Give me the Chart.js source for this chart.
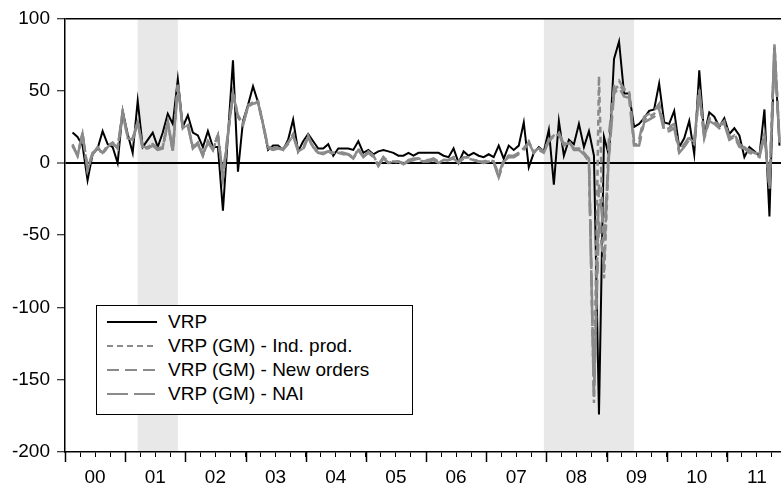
<!DOCTYPE html>
<html>
<head>
<meta charset="utf-8">
<script src="https://cdn.jsdelivr.net/npm/chart.js@4.4.1/dist/chart.umd.min.js"></script>
<style>
    html, body { margin: 0; padding: 0; background: #fff; }
    #wrap { position: relative; width: 781px; height: 486px; overflow: hidden; }
    #chart { position: absolute; left: 0; top: 0; }
    #legend {
        position: absolute; left: 96px; top: 305px; width: 315px; height: 108px;
        border: 1px solid #000; background: #fff;
        font-family: "Liberation Sans", Arial, sans-serif; font-size: 19px; color: #000;
    }
    #legend .row { position: absolute; left: 0; height: 24px; display: flex; align-items: center; white-space: nowrap; }
    #legend svg { margin-left: 10px; margin-right: 11px; }
</style>
</head>
<body>
<div id="wrap">
    <canvas id="chart" width="800" height="486"></canvas>
    <div id="legend"></div>
</div>
<script>
// Monthly observations, Feb 2000 .. Nov 2011 (x = months after Jan 2000)
const firstMonth = 1;
const yearLabels = ['00', '01', '02', '03', '04', '05', '06', '07', '08', '09', '10', '11'];

// Recessions: first and last month (months after Jan 2000)
const recessions = [[14, 22], [95, 113]];

const vrp = [
    21, 18, 12, -12, 6, 10, 22, 13, 11, 0, 36,
    20, 7, 43, 11, 16, 21, 11, 21, 34, 27, 58, 25,
    33, 21, 19, 11, 22, 11, 11, -33, 19, 71, -6, 29,
    40, 53, 42, 27, 9, 12, 12, 9, 16, 30, 8, 15,
    20, 15, 10, 10, 13, 5, 10, 10, 10, 9, 15, 7,
    9, 6, 8, 9, 8, 7, 5, 5, 7, 5, 7, 7,
    7, 7, 7, 5, 4, 10, 0, 8, 5, 7, 5, 4,
    6, 4, 12, 3, 12, 9, 12, 28, -3, 7, 11, 8,
    23, -15, 29, 5, 16, 13, 27, 11, 22, 5, -174, 18,
    5, 72, 84, 48, 48, 25, 27, 31, 36, 37, 55, 28,
    27, 36, 11, 17, 29, 6, 64, 19, 35, 32, 25, 31,
    20, 24, 19, 4, 11, 8, 5, 37, -37, 80, 12
];

const vrpIndProd = [
    13, 5, 21, -5, 6, 11, 6, 12, 14, 10, 36,
    18, 17, 29, 10, 11, 13, 9, 11, 29, 8, 55, 24,
    27, 10, 14, 5, 15, 9, 20, -10, 20, 49, 33, 27,
    40, 42, 43, 27, 10, 10, 10, 10, 14, 20, 8, 10,
    19, 11, 7, 7, 8, 7, 7, 7, 6, 3, 10, 4,
    8, 5, -2, 4, 0, 1, 1, -1, 2, 2, 3, 1,
    2, 3, 0, 2, 2, 4, 0, 4, 4, 2, 1, 0,
    2, 1, -10, 1, 5, 4, 7, 10, 15, 7, 10, 8,
    16, 19, 21, 13, 15, 9, 10, 7, 2, -166, 60, -80,
    10, 50, 54, 50, 49, 13, 13, 30, 32, 34, 39, 23,
    24, 26, 8, 12, 17, 14, 50, 18, 30, 28, 25, 28,
    17, 19, 12, 11, 8, 7, 5, 20, -15, 82, 15
];

const vrpNewOrders = [
    12, 6, 20, -4, 7, 10, 7, 12, 13, 11, 35,
    18, 16, 28, 11, 11, 13, 10, 11, 28, 9, 54, 24,
    26, 11, 14, 6, 15, 10, 19, -8, 21, 48, 32, 27,
    39, 41, 42, 27, 11, 10, 11, 10, 14, 19, 9, 10,
    18, 11, 8, 7, 8, 7, 7, 7, 6, 4, 9, 5,
    8, 5, -1, 4, 1, 1, 1, 0, 2, 3, 3, 2,
    2, 3, 1, 2, 2, 4, 1, 4, 4, 2, 1, 1,
    2, 1, -8, 2, 5, 5, 7, 10, 14, 8, 10, 8,
    16, 18, 20, 13, 15, 10, 10, 7, 3, -158, -40, -72,
    20, 53, 57, 51, 50, 15, 16, 32, 34, 36, 41, 25,
    25, 27, 9, 13, 18, 15, 51, 19, 31, 29, 26, 29,
    18, 20, 13, 11, 9, 7, 6, 20, -18, 81, 16
];

const vrpNai = [
    12, 5, 20, -5, 6, 11, 6, 11, 14, 10, 35,
    17, 16, 28, 10, 10, 12, 9, 10, 28, 8, 53, 23,
    26, 10, 13, 5, 14, 9, 19, -10, 19, 48, 32, 26,
    39, 41, 42, 26, 10, 9, 10, 9, 13, 19, 8, 9,
    18, 10, 7, 6, 8, 6, 7, 6, 6, 3, 9, 4,
    7, 4, -2, 3, 0, 0, 1, -1, 1, 2, 2, 1,
    1, 2, 0, 1, 2, 3, 0, 3, 3, 2, 1, 0,
    1, 0, -10, 1, 4, 4, 6, 9, 14, 7, 9, 7,
    15, 18, 20, 12, 14, 9, 9, 6, 1, -162, -15, -50,
    5, 48, 52, 46, 45, 12, 12, 28, 30, 32, 37, 22,
    22, 24, 7, 11, 16, 13, 48, 17, 29, 27, 24, 27,
    16, 18, 11, 10, 7, 6, 4, 19, -16, 80, 14
];

const tickFont = { family: '"Liberation Sans", Arial, sans-serif', size: 19 };

// observations sit in the middle of their month
function toPoints(values) {
    return values.map((v, k) => ({ x: firstMonth + k + 0.5, y: v }));
}

// Grey recession bands
const recessionShading = {
    id: 'recessionShading',
    beforeDraw(chart) {
        const { ctx, chartArea, scales } = chart;
        ctx.save();
        ctx.fillStyle = '#e8e8e8';
        recessions.forEach(([from, to]) => {
            const x0 = scales.x.getPixelForValue(from + 0.5);
            const x1 = scales.x.getPixelForValue(to + 0.5);
            ctx.fillRect(x0, chartArea.top, x1 - x0, chartArea.bottom - chartArea.top);
        });
        ctx.restore();
    }
};

// Longer tick marks at the start of each year
const yearTicks = {
    id: 'yearTicks',
    afterDraw(chart) {
        const { ctx, chartArea, scales } = chart;
        ctx.save();
        ctx.strokeStyle = '#000';
        ctx.lineWidth = 1.5;
        for (let m = 0; m <= scales.x.max; m += 12) {
            const px = Math.round(scales.x.getPixelForValue(m)) + 0.5;
            ctx.beginPath();
            ctx.moveTo(px, chartArea.bottom);
            ctx.lineTo(px, chartArea.bottom + 10);
            ctx.stroke();
        }
        ctx.restore();
    }
};

const grey = '#8a8a8a';

const chart = new Chart(document.getElementById('chart'), {
    type: 'line',
    data: {
        datasets: [
            { label: 'VRP', data: toPoints(vrp), borderColor: '#000', borderWidth: 2, order: 4 },
            { label: 'VRP (GM) - Ind. prod.', data: toPoints(vrpIndProd), borderColor: grey, borderWidth: 2.5, borderDash: [6, 4], order: 3 },
            { label: 'VRP (GM) - New orders', data: toPoints(vrpNewOrders), borderColor: grey, borderWidth: 2.5, borderDash: [12, 6], order: 2 },
            { label: 'VRP (GM) - NAI', data: toPoints(vrpNai), borderColor: grey, borderWidth: 2.5, borderDash: [21, 6], order: 1 }
        ]
    },
    options: {
        responsive: false,
        animation: false,
        events: [],
        elements: { point: { radius: 0 }, line: { tension: 0, fill: false } },
        layout: { padding: { top: 18, right: 13, left: 0, bottom: 0 } },
        plugins: {
            legend: { display: false },
            tooltip: { enabled: false }
        },
        scales: {
            x: {
                type: 'linear',
                min: 0,
                max: 144,
                afterFit: s => { s.height = 34; },
                border: { display: true, color: '#000', width: 1.5 },
                grid: { drawOnChartArea: false, drawTicks: true, tickLength: 5, tickColor: '#000', tickWidth: 1 },
                ticks: {
                    stepSize: 3,
                    autoSkip: false,
                    maxRotation: 0,
                    padding: 9,
                    color: '#000',
                    font: tickFont,
                    callback: v => (v % 12 === 6 ? yearLabels[(v - 6) / 12] : '')
                }
            },
            y: {
                min: -200,
                max: 100,
                afterFit: s => { s.width = 65; },
                border: { display: true, color: '#000', width: 1.5 },
                grid: {
                    drawTicks: true,
                    tickLength: 8,
                    tickColor: '#000',
                    tickWidth: 1,
                    color: ctx => (ctx.tick && (ctx.tick.value === 0 || ctx.tick.value === 100) ? '#000' : 'rgba(0,0,0,0)'),
                    lineWidth: ctx => (ctx.tick && ctx.tick.value === 0 ? 2 : 1.5)
                },
                ticks: { stepSize: 50, padding: 7, color: '#000', font: tickFont }
            }
        }
    },
    plugins: [recessionShading, yearTicks]
});

// Legend box, built from the datasets
const legendEl = document.getElementById('legend');
chart.data.datasets.forEach((ds, i) => {
    const row = document.createElement('div');
    row.className = 'row';
    row.style.top = (4 + i * 24) + 'px';
    const dash = (ds.borderDash || []).join(' ');
    row.innerHTML = '<svg width="50" height="4"><line x1="0" y1="2" x2="50" y2="2" stroke="' + ds.borderColor +
        '" stroke-width="' + Math.min(ds.borderWidth, 2) + '" stroke-dasharray="' + dash + '"/></svg>';
    const label = document.createElement('span');
    label.textContent = ds.label;
    row.appendChild(label);
    legendEl.appendChild(row);
});
</script>
</body>
</html>
